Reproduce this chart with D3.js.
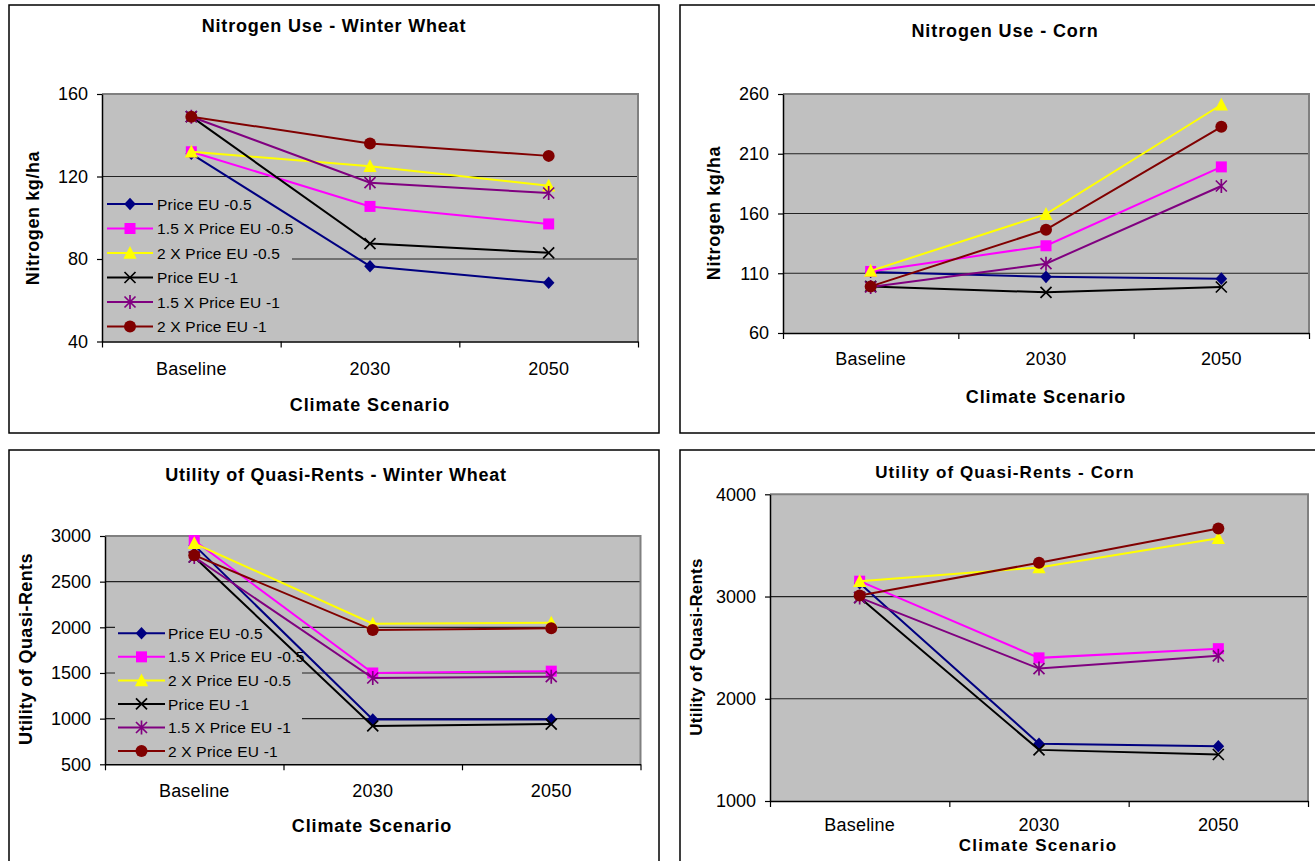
<!DOCTYPE html>
<html><head><meta charset="utf-8">
<script src="https://cdn.jsdelivr.net/npm/d3@7"></script>
<style>
body{margin:0;background:#fff}
svg{display:block}
text{font-family:"Liberation Sans",Arial,Helvetica,sans-serif;fill:#000}
</style>
</head><body>
<svg id="chart" width="1315" height="861"></svg>
<script>
// ---------- DATA ----------
const categories = ["Baseline", "2030", "2050"];
const seriesNames = ["Price EU -0.5", "1.5 X Price EU -0.5", "2 X Price EU -0.5", "Price EU -1", "1.5 X Price EU -1", "2 X Price EU -1"];
const seriesColors = ["#000080", "#FF00FF", "#FFFF00", "#000000", "#800080", "#800000"];
const seriesMarkers = ["diamond", "square", "triangle", "x", "star", "circle"];

const wheatNitrogen = [
  [131, 76.5, 68.5],
  [132, 105.5, 97],
  [132, 125, 115.5],
  [149, 87.5, 83],
  [149, 117, 112],
  [149, 136, 130]
];
const cornNitrogen = [
  [111, 107, 105.5],
  [111.5, 133, 199],
  [112, 159.5, 251],
  [99, 94, 98.5],
  [98.5, 118, 183],
  [99, 146.5, 232.5]
];
const wheatRents = [
  [2900, 990, 990],
  [2950, 1500, 1520],
  [2920, 2040, 2050],
  [2770, 920, 940],
  [2770, 1445, 1460],
  [2790, 1970, 1990]
];
const cornRents = [
  [3130, 1560, 1535],
  [3150, 2400, 2490],
  [3150, 3285, 3570],
  [2990, 1500, 1455],
  [2990, 2295, 2420],
  [3010, 3330, 3665]
];

const wheatNitrogenTicks = [40, 80, 120, 160];
const cornNitrogenTicks = [60, 110, 160, 210, 260];
const wheatRentsTicks = [500, 1000, 1500, 2000, 2500, 3000];
const cornRentsTicks = [1000, 2000, 3000, 4000];

const titles = ["Nitrogen Use - Winter Wheat", "Nitrogen Use - Corn", "Utility of Quasi-Rents - Winter Wheat", "Utility of Quasi-Rents - Corn"];
const xAxisTitle = "Climate Scenario";
const yAxisTitles = ["Nitrogen kg/ha", "Nitrogen kg/ha", "Utility of Quasi-Rents", "Utility of Quasi-Rents"];

// ---------- LAYOUT ----------
const charts = [
  {values: wheatNitrogen, ticks: wheatNitrogenTicks, title: titles[0], yTitle: yAxisTitles[0],
   panel: {x: 9, y: 5, w: 650, h: 428}, plot: {l: 102, r: 638, t: 94, b: 341.5},
   titlePos: {x: 334, y: 32, size: 18, ls: 0.8}, xTitlePos: {x: 370, y: 411, size: 18, ls: 0.9},
   yTitlePos: {x: 33, y: 218, size: 18, ls: 0.6}, xLabelY: 375,
   legend: {x: 102, y: 190, w: 190, h: 151, row0: 204, gap: 24.5, lx1: 107, lx2: 153, tx: 157}},
  {values: cornNitrogen, ticks: cornNitrogenTicks, title: titles[1], yTitle: yAxisTitles[1],
   panel: {x: 680, y: 5, w: 700, h: 428}, plot: {l: 783, r: 1309, t: 94, b: 333},
   titlePos: {x: 1005, y: 37, size: 18, ls: 0.9}, xTitlePos: {x: 1046, y: 403, size: 18, ls: 0.9},
   yTitlePos: {x: 714, y: 213, size: 18, ls: 0.6}, xLabelY: 365, legend: null},
  {values: wheatRents, ticks: wheatRentsTicks, title: titles[2], yTitle: yAxisTitles[2],
   panel: {x: 9, y: 450, w: 650, h: 500}, plot: {l: 105, r: 640.5, t: 536, b: 764.3},
   titlePos: {x: 336, y: 481, size: 18, ls: 0.75}, xTitlePos: {x: 372, y: 832, size: 18, ls: 0.9},
   yTitlePos: {x: 26, y: 649, size: 18, ls: 0.4}, xLabelY: 797,
   legend: {x: 115, y: 617, w: 187, h: 147, row0: 633.3, gap: 23.55, lx1: 118, lx2: 165, tx: 168}},
  {values: cornRents, ticks: cornRentsTicks, title: titles[3], yTitle: yAxisTitles[3],
   panel: {x: 680, y: 450, w: 700, h: 500}, plot: {l: 770, r: 1308, t: 494.3, b: 801},
   titlePos: {x: 1005, y: 478, size: 17, ls: 1.1}, xTitlePos: {x: 1038, y: 851, size: 17, ls: 1.3},
   yTitlePos: {x: 696, y: 647, size: 17, ls: 0.2}, xLabelY: 831, legend: null}
];

const svg = d3.select("#chart");

const markerPaths = {
  diamond: "M0,-6.3L5.8,0L0,6.3L-5.8,0Z",
  square: "M-5.5,-5.5H5.5V5.5H-5.5Z",
  triangle: "M0,-7L6.6,5.8H-6.6Z",
  x: "M-5.5,-5.5L5.5,5.5M5.5,-5.5L-5.5,5.5",
  star: "M-5.5,-5.5L5.5,5.5M5.5,-5.5L-5.5,5.5M0,-7V7"
};

function drawMarker(g, type, color, x, y) {
  if (type === "circle") {
    g.append("circle").attr("cx", x).attr("cy", y).attr("r", 6).attr("fill", color);
  } else if (type === "x" || type === "star") {
    g.append("path").attr("d", markerPaths[type]).attr("transform", `translate(${x},${y})`)
      .attr("fill", "none").attr("stroke", color).attr("stroke-width", 1.7);
  } else {
    g.append("path").attr("d", markerPaths[type]).attr("transform", `translate(${x},${y})`)
      .attr("fill", color);
  }
}

charts.forEach(c => {
  const g = svg.append("g");
  const P = c.plot;
  // panel border
  g.append("rect").attr("x", c.panel.x).attr("y", c.panel.y).attr("width", c.panel.w).attr("height", c.panel.h)
    .attr("fill", "#fff").attr("stroke", "#000").attr("stroke-width", 1.5);

  const x = d3.scaleBand().domain(categories).range([P.l, P.r]).padding(0);
  const xEdge = d3.scaleLinear().domain([0, categories.length]).range([P.l, P.r]);
  const y = d3.scaleLinear().domain([d3.min(c.ticks), d3.max(c.ticks)]).range([P.b, P.t]);

  // plot background
  g.append("rect").attr("x", P.l).attr("y", P.t).attr("width", P.r - P.l).attr("height", P.b - P.t)
    .attr("fill", "#C0C0C0");
  // gridlines
  g.append("g").selectAll("line").data(c.ticks.slice(1, -1)).join("line")
    .attr("x1", P.l).attr("x2", P.r).attr("y1", d => y(d)).attr("y2", d => y(d))
    .attr("stroke", "#222").attr("stroke-width", 1.2);
  // plot border top/right
  g.append("path").attr("d", `M${P.l},${P.t}H${P.r}V${P.b}`).attr("fill", "none")
    .attr("stroke", "#808080").attr("stroke-width", 2);

  // legend (under the series)
  if (c.legend) {
    const L = c.legend;
    const lg = g.append("g");
    lg.append("rect").attr("x", L.x).attr("y", L.y).attr("width", L.w).attr("height", L.h).attr("fill", "#C0C0C0");
    seriesNames.forEach((name, i) => {
      const ry = L.row0 + i * L.gap;
      lg.append("line").attr("x1", L.lx1).attr("x2", L.lx2).attr("y1", ry).attr("y2", ry)
        .attr("stroke", seriesColors[i]).attr("stroke-width", 2);
      drawMarker(lg, seriesMarkers[i], seriesColors[i], (L.lx1 + L.lx2) / 2, ry);
      lg.append("text").attr("x", L.tx).attr("y", ry).attr("dy", "0.36em")
        .attr("font-size", 15.5).attr("letter-spacing", 0.2).text(name);
    });
  }

  // series
  const line = d3.line().x((d, i) => x(categories[i]) + x.bandwidth() / 2).y(d => y(d));
  c.values.forEach((vals, si) => {
    const sg = g.append("g");
    sg.append("path").attr("d", line(vals)).attr("fill", "none")
      .attr("stroke", seriesColors[si]).attr("stroke-width", 2);
    vals.forEach((v, i) => drawMarker(sg, seriesMarkers[si], seriesColors[si], x(categories[i]) + x.bandwidth() / 2, y(v)));
  });

  // y axis
  const yAx = g.append("g").attr("transform", `translate(${P.l},0)`)
    .call(d3.axisLeft(y).tickValues(c.ticks).tickSize(5).tickSizeOuter(0).tickPadding(9).tickFormat(d3.format("d")));
  yAx.select(".domain").attr("stroke", "#000").attr("stroke-width", 1.5);
  yAx.selectAll(".tick line").attr("stroke", "#000").attr("stroke-width", 1.2);
  yAx.selectAll("text").attr("font-size", 18).attr("font-family", '"Liberation Sans",Arial,sans-serif').attr("fill", "#000");

  // x axis: boundary tick marks
  const xTk = g.append("g").attr("transform", `translate(0,${P.b})`)
    .call(d3.axisBottom(xEdge).tickValues(d3.range(categories.length + 1)).tickSize(6).tickSizeOuter(0).tickFormat(""));
  xTk.select(".domain").attr("stroke", "#000").attr("stroke-width", 1.5);
  xTk.selectAll(".tick line").attr("stroke", "#000").attr("stroke-width", 1.2);
  // x axis: category labels
  const xAx = g.append("g").attr("transform", `translate(0,${P.b})`)
    .call(d3.axisBottom(x).tickSize(0).tickPadding(c.xLabelY - P.b - 0.71 * 18));
  xAx.select(".domain").remove();
  xAx.selectAll("text").attr("font-size", 18).attr("font-family", '"Liberation Sans",Arial,sans-serif')
    .attr("fill", "#000").attr("letter-spacing", 0.2);

  // titles
  g.append("text").attr("x", c.titlePos.x).attr("y", c.titlePos.y).attr("text-anchor", "middle")
    .attr("font-weight", "bold").attr("font-size", c.titlePos.size).attr("letter-spacing", c.titlePos.ls).text(c.title);
  g.append("text").attr("x", c.xTitlePos.x).attr("y", c.xTitlePos.y).attr("text-anchor", "middle")
    .attr("font-weight", "bold").attr("font-size", c.xTitlePos.size).attr("letter-spacing", c.xTitlePos.ls).text(xAxisTitle);
  g.append("text").attr("transform", `translate(${c.yTitlePos.x},${c.yTitlePos.y}) rotate(-90)`)
    .attr("text-anchor", "middle").attr("dy", "0.36em")
    .attr("font-weight", "bold").attr("font-size", c.yTitlePos.size).attr("letter-spacing", c.yTitlePos.ls).text(c.yTitle);
});
</script>
</body></html>
